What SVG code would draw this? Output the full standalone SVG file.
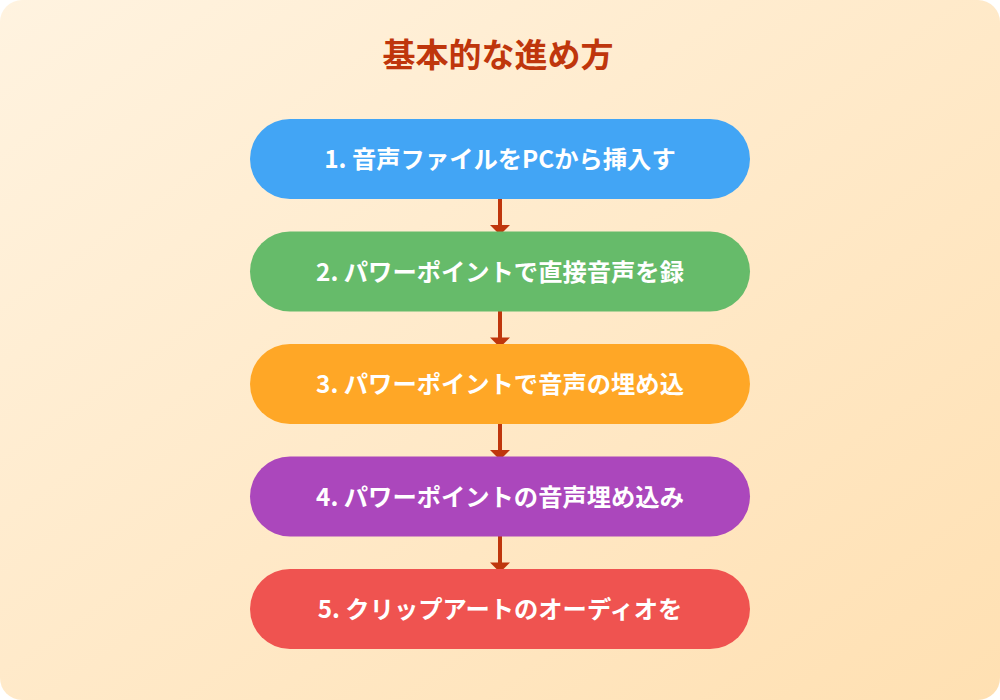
<svg xmlns="http://www.w3.org/2000/svg" width="1000" height="700" viewBox="0 0 1000 700">
<defs>
<linearGradient id="bg" x1="0" y1="0" x2="1" y2="1">
<stop offset="0" stop-color="#fff3e0"/>
<stop offset="1" stop-color="#ffe0b2"/>
</linearGradient>
<style>
.t{font-family:"Noto Sans CJK JP","Noto Sans",sans-serif;font-weight:bold;text-anchor:middle}
.lbl{font-size:24.3px;fill:#ffffff}
.conn line{stroke:#bf360c;stroke-width:4}
.head{fill:#bf360c}
</style>
</defs>
<rect x="0" y="0" width="1000" height="700" fill="#ffffff"/>
<rect x="0" y="0" width="1000" height="700" rx="22" fill="url(#bg)"/>
<text class="t" x="498" y="67" font-size="33" fill="#bf360c">基本的な進め方</text>
<g id="connectors" class="conn">
<line x1="500" y1="199" x2="500" y2="226"/>
<path class="head" d="M490,225 L510,225 L500,235 Z"/>
<line x1="500" y1="311" x2="500" y2="338"/>
<path class="head" d="M490,337.5 L510,337.5 L500,347.5 Z"/>
<line x1="500" y1="424" x2="500" y2="451"/>
<path class="head" d="M490,450 L510,450 L500,460 Z"/>
<line x1="500" y1="536" x2="500" y2="563"/>
<path class="head" d="M490,562.5 L510,562.5 L500,572.5 Z"/>
</g>
<g id="step1"><rect x="250" y="119" width="500" height="80" rx="40" fill="#42a5f5"/><text class="t lbl" x="500" y="168">1. 音声ファイルをPCから挿入す</text></g>
<g id="step2"><rect x="250" y="231.5" width="500" height="80" rx="40" fill="#66bb6a"/><text class="t lbl" x="500" y="280.5">2. パワーポイントで直接音声を録</text></g>
<g id="step3"><rect x="250" y="344" width="500" height="80" rx="40" fill="#ffa726"/><text class="t lbl" x="500" y="393">3. パワーポイントで音声の埋め込</text></g>
<g id="step4"><rect x="250" y="456.5" width="500" height="80" rx="40" fill="#ab47bc"/><text class="t lbl" x="500" y="505.5">4. パワーポイントの音声埋め込み</text></g>
<g id="step5"><rect x="250" y="569" width="500" height="80" rx="40" fill="#ef5350"/><text class="t lbl" x="500" y="618">5. クリップアートのオーディオを</text></g>
</svg>
